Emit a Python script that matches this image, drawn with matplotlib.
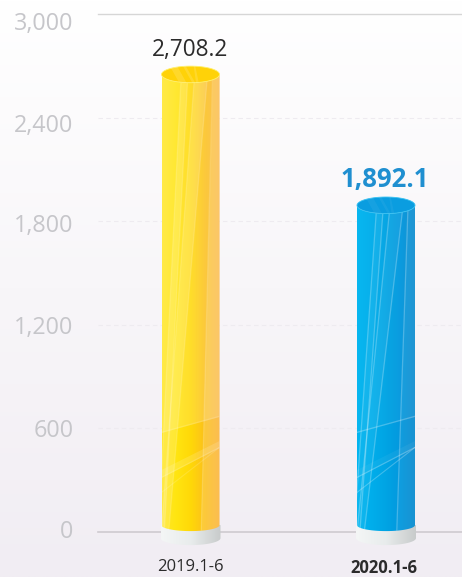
import matplotlib
matplotlib.use('Agg')
import matplotlib.pyplot as plt
import numpy as np
from matplotlib.colors import LinearSegmentedColormap
from matplotlib.patches import PathPatch, Polygon
from matplotlib.path import Path
from matplotlib.transforms import ScaledTranslation

periods = ['2019.1-6', '2020.1-6']
values = [2708.2, 1892.1]
value_labels = ['2,708.2', '1,892.1']
bar_tops = [2650, 1892]  # the drawn cylinders
y_ticks = [0, 600, 1200, 1800, 2400, 3000]
y_labels = ['0', '600', '1,200', '1,800', '2,400', '3,000']

W, H = 462, 577
plt.rcParams['font.family'] = ['Open Sans', 'DejaVu Sans']

fig = plt.figure(figsize=(W / 100, H / 100), dpi=100)

# background gradient
bg = fig.add_axes([0, 0, 1, 1], zorder=0)
bg_cmap = LinearSegmentedColormap.from_list('bg', ['#ffffff', '#f8f6f9', '#f1edf3'])
bg.imshow(np.linspace(0, 1, 256).reshape(-1, 1), cmap=bg_cmap, aspect='auto')
bg.axis('off')

# plot area: left 98px, right edge of the figure, y from 14px to 532px
ax = fig.add_axes([98 / W, (H - 532) / H, (W - 98) / W, 518 / H], zorder=1)
ax.patch.set_alpha(0)
px_x = 1 / 195.5   # data units per pixel
px_y = 3000 / 518
ax.set_xlim(-92.5 * px_x, 271.5 * px_x)
ax.set_ylim(0, 3000)

for tick in y_ticks[1:-1]:
    ax.axhline(tick, color='#eeebf0', lw=0.8, ls=(0, (4, 3)), zorder=1)
ax.axhline(0, color='#cfcbd0', lw=1.2, zorder=1, clip_on=False)
ax.axhline(3000, color='#d6d6d6', lw=1, zorder=1, clip_on=False)

for s in ax.spines.values():
    s.set_visible(False)
ax.set_yticks(y_ticks)
ax.set_yticklabels(y_labels, fontsize=16.8, color='#c6c6ca')
ax.tick_params(axis='y', length=0, pad=17.5)
ax.set_xticks(range(len(periods)))
ax.set_xticklabels(periods, fontsize=12, color='#2b2b2b')
ax.tick_params(axis='x', length=0, pad=19.5)
ax.get_xticklabels()[1].set_fontweight('bold')

# the tick labels sit a little off their gridlines in the original
for label, off in zip(ax.get_yticklabels(), [3.5, 0.5, -0.5, -2, -5, -7]):
    label.set_transform(label.get_transform() + ScaledTranslation(0, off / 100, fig.dpi_scale_trans))
xlab = ax.get_xticklabels()[1]
xlab.set_transform(xlab.get_transform() + ScaledTranslation(-2.5 / 100, 0, fig.dpi_scale_trans))


def arc(cx, cy, rx, ry, start, end, n=40):
    t = np.radians(np.linspace(start, end, n))
    return np.column_stack([cx + rx * np.cos(t), cy + ry * np.sin(t)])


def closed(points):
    points = np.vstack([points, points[:1]])
    codes = [Path.MOVETO] + [Path.LINETO] * (len(points) - 2) + [Path.CLOSEPOLY]
    return Path(points, codes)


def gradient(path, cmap, extent, zorder):
    im = ax.imshow(np.linspace(0, 1, 256).reshape(1, -1), cmap=cmap, extent=extent,
                   aspect='auto', zorder=zorder)
    patch = PathPatch(path, transform=ax.transData, fc='none', ec='none')
    im.set_clip_box(fig.bbox)
    im.set_clip_path(patch)
    return im


def overlay(cx, rx, shapes, clip, color, alpha, zorder=4):
    # shapes are (u, value) corners, u runs from -1 to 1 across the cylinder
    for shape in shapes:
        pts = [(cx + u * rx, v) for u, v in shape]
        p = Polygon(pts, closed=True, fc=color, ec='none', alpha=alpha, zorder=zorder)
        ax.add_patch(p)
        p.set_clip_box(fig.bbox)
        p.set_clip_path(PathPatch(clip, transform=ax.transData))


def thin(u0, u1, top, bottom=0, w=0.022):
    return [(u0 - w, top), (u0 + w, top), (u1 + w, bottom), (u1 - w, bottom)]


def cylinder(cx, top, colors, lid_color, rim_color, fill_alpha, line_alpha, upper_alpha):
    rx = 29 * px_x
    ry_top = 8.3 * px_y
    ry_low = 6 * px_y
    low = 40.0

    # pedestal
    bx = 30 * px_x
    base = closed(np.vstack([arc(cx, low - 13 * px_y, bx, 7 * px_y, 180, 360),
                             [[cx + bx, low], [cx - bx, low]]]))
    base_cmap = LinearSegmentedColormap.from_list('base', ['#f4f6f6', '#e8ecec', '#c8cbcb'])
    gradient(base, base_cmap, (cx - bx, cx + bx, -25 * px_y, low), 2)

    # body with the curved bottom and top
    body = closed(np.vstack([arc(cx, low, rx, ry_low, 180, 360),
                             arc(cx, top, rx, ry_top, 0, -180)]))
    cmap = LinearSegmentedColormap.from_list('body', colors)
    gradient(body, cmap, (cx - rx, cx + rx, -10 * px_y, top), 3)

    # lighter upper part above the big diagonal
    overlay(cx, rx, [[(-1, 573), (1, 666), (1, top), (-1, top)]], body, 'white', upper_alpha)

    # soft bands that run down the height of the cylinder
    overlay(cx, rx, [[(-0.32, top), (-0.09, top), (-0.9, 0), (-1.1, 0)],
                     [(0.14, top), (0.59, top), (-0.75, 0), (-1.0, 0)],
                     [(0.76, top), (1.0, top), (1.0, 0), (0.37, 0)]],
            body, 'white', fill_alpha)
    # thin bright edges
    overlay(cx, rx, [thin(-0.32, -1.1, top), thin(-0.09, -0.9, top), thin(0.14, -1.0, top),
                     thin(0.59, -0.75, top), thin(0.76, 0.37, top)],
            body, 'white', line_alpha)

    # diagonal bands near the bottom
    overlay(cx, rx, [[(-1, 312), (1, 486), (1, 527), (-1, 359)]], body, 'white', fill_alpha)
    overlay(cx, rx, [[(-1, 225), (1, 486), (1, 494), (-1, 233)],
                     [(-1, 312), (1, 486), (1, 494), (-1, 320)],
                     [(-1, 573), (1, 666), (1, 674), (-1, 581)]],
            body, 'white', line_alpha)

    # open top of the cylinder
    lid = closed(arc(cx, top, rx, ry_top, 0, 360, 80))
    ax.add_patch(PathPatch(lid, fc=lid_color, ec=rim_color, lw=0.6, zorder=5))
    overlay(cx, rx, [[(-0.75, top + 60), (-0.5, top + 60), (-0.1, top - 60), (-0.35, top - 60)],
                     [(-0.3, top + 60), (-0.2, top + 60), (0.2, top - 60), (0.1, top - 60)],
                     [(0.1, top + 60), (0.15, top + 60), (0.3, top - 60), (0.2, top - 60)]],
            lid, 'white', fill_alpha, zorder=6)


yellow = ['#ffe72a', '#ffe510', '#ffd808', '#fcc01c', '#fbb236']
blue = ['#00b5f0', '#00aeeb', '#00a4e4', '#0498de', '#0d8dcf']
cylinder(0, bar_tops[0], yellow, '#ffd208', '#fff06a', 0.14, 0.15, 0.14)
cylinder(1, bar_tops[1], blue, '#0a9de0', '#38c2f2', 0.05, 0.25, 0.03)

# value labels
ax.text(0, values[0] + 14, value_labels[0], ha='center', va='bottom', fontsize=16.3, color='#2b2b2b', zorder=6)
ax.text(1 - 1.5 * px_x, values[1] + 72, value_labels[1], ha='center', va='bottom', fontsize=18.5,
        fontweight='bold', color='#1f8fd0', zorder=6)

fig.savefig('out.png', dpi=100)
